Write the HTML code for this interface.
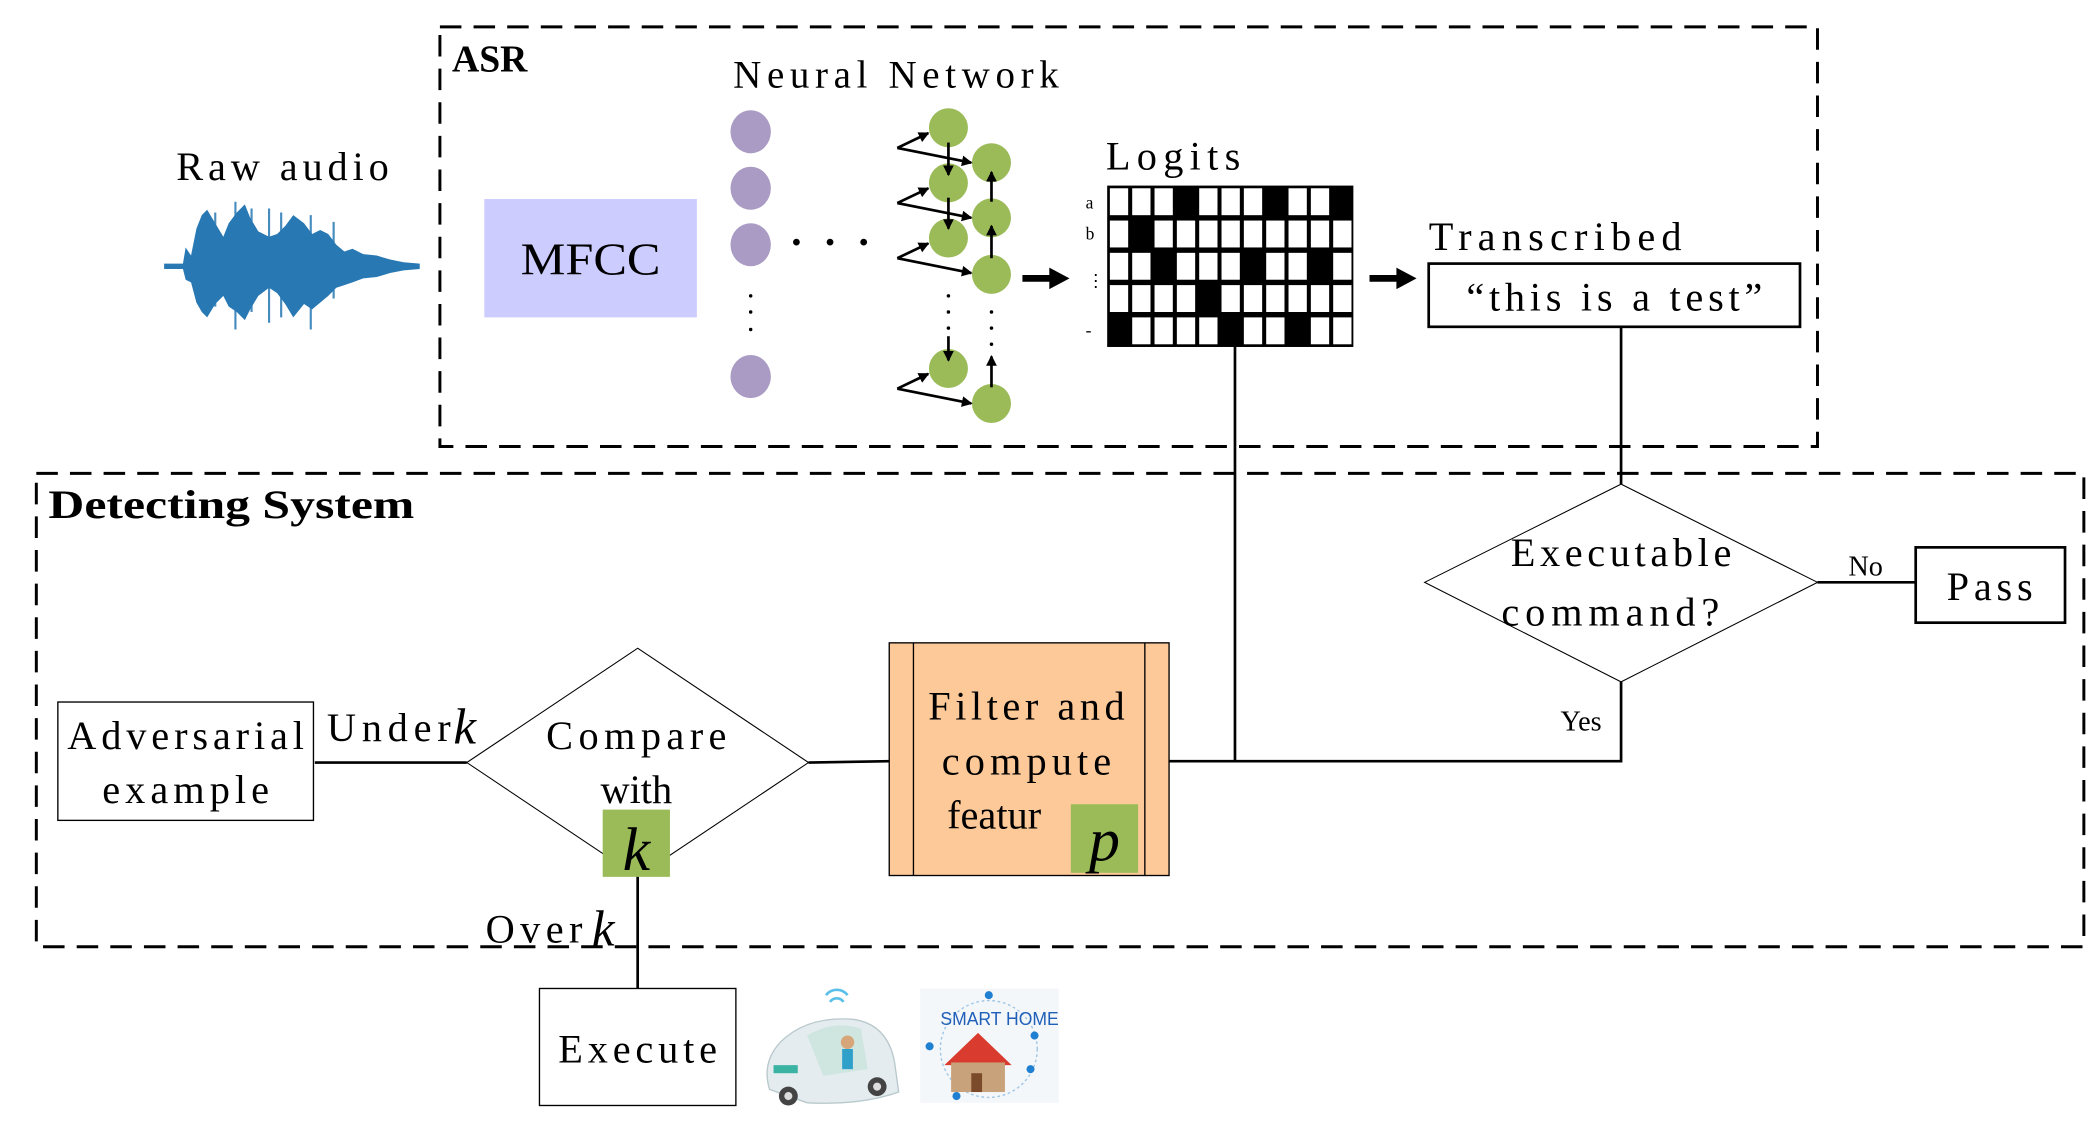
<!DOCTYPE html>
<html><head><meta charset="utf-8"><style>
html,body{margin:0;padding:0;background:#fff;}
svg{display:block;}
text{font-family:"Liberation Serif",serif;fill:#000;}
</style></head><body>
<svg width="2100" height="1127" viewBox="0 0 1561 838" preserveAspectRatio="none" xmlns="http://www.w3.org/2000/svg">
<defs>
<marker id="ah" markerWidth="8" markerHeight="8" refX="7" refY="4" orient="auto" markerUnits="userSpaceOnUse"><path d="M0,0 L8,4 L0,8 Z" fill="#000"/></marker>
</defs>
<rect width="1561" height="838" fill="#fff"/>
<!-- dashed boxes -->
<rect x="327" y="20" width="1024" height="312" fill="none" stroke="#000" stroke-width="2.2" stroke-dasharray="16,9"/>
<rect x="27" y="352" width="1522" height="352" fill="none" stroke="#000" stroke-width="2.2" stroke-dasharray="16,9"/>
<text x="336" y="53" font-size="28" font-weight="bold">ASR</text>
<text x="36" y="385" font-size="30" font-weight="bold" textLength="272" lengthAdjust="spacingAndGlyphs">Detecting System</text>
<!-- raw audio -->
<text x="131" y="134" font-size="30" textLength="158" lengthAdjust="spacing">Raw audio</text>
<g fill="#2878b4">
<polygon points="122,196 136,196 138,184 142,190 146,170 150,160 154,156 160,166 166,176 170,166 176,158 182,152 186,162 192,172 200,176 206,174 212,168 218,160 226,166 232,174 238,171 244,174 250,182 256,187 262,185 270,189 280,190 290,193 300,195 312,196 312,200 300,201 290,203 280,206 270,207 262,210 256,212 250,214 244,220 238,225 232,230 226,226 218,236 212,226 206,218 200,214 192,220 186,230 182,238 176,232 170,228 166,220 160,226 154,236 150,232 146,225 142,210 138,208 136,200 122,200"/>
<g stroke="#2878b4" stroke-width="1.6" opacity="0.85">
<line x1="175" y1="150" x2="175" y2="245"/><line x1="200" y1="155" x2="200" y2="240"/><line x1="209" y1="158" x2="209" y2="236"/><line x1="231" y1="160" x2="231" y2="245"/><line x1="153" y1="163" x2="153" y2="232"/><line x1="248" y1="165" x2="248" y2="222"/><line x1="187" y1="155" x2="187" y2="232"/><line x1="160" y1="158" x2="160" y2="228"/>
</g>
</g>
<!-- MFCC -->
<rect x="360" y="148" width="158" height="88" fill="#ccccfe"/>
<text x="439" y="204" font-size="34" text-anchor="middle" textLength="104" lengthAdjust="spacingAndGlyphs">MFCC</text>
<!-- neural network -->
<text x="545" y="65" font-size="29" textLength="242" lengthAdjust="spacing">Neural Network</text>
<g fill="#a99bc3">
<ellipse cx="558" cy="98" rx="15" ry="16"/><ellipse cx="558" cy="140" rx="15" ry="16"/><ellipse cx="558" cy="182" rx="15" ry="16"/><ellipse cx="558" cy="280" rx="15" ry="16"/>
</g>
<g fill="#000"><circle cx="592" cy="180" r="2.5"/><circle cx="617" cy="180" r="2.5"/><circle cx="642" cy="180" r="2.5"/>
<circle cx="558" cy="220" r="1.3"/><circle cx="558" cy="232" r="1.3"/><circle cx="558" cy="245" r="1.3"/>
<circle cx="705" cy="220" r="1.3"/><circle cx="705" cy="232" r="1.3"/><circle cx="705" cy="244" r="1.3"/>
<circle cx="737" cy="232" r="1.3"/><circle cx="737" cy="244" r="1.3"/><circle cx="737" cy="256" r="1.3"/></g>
<g fill="#9bbb59">
<circle cx="705" cy="95" r="14.5"/><circle cx="705" cy="136" r="14.5"/><circle cx="705" cy="177" r="14.5"/><circle cx="705" cy="274" r="14.5"/>
<circle cx="737" cy="121" r="14.5"/><circle cx="737" cy="162" r="14.5"/><circle cx="737" cy="204" r="14.5"/><circle cx="737" cy="300" r="14.5"/>
</g>
<g stroke="#000" stroke-width="2" marker-end="url(#ah)">
<line x1="667" y1="110" x2="690" y2="99"/><line x1="667" y1="110" x2="722" y2="121"/>
<line x1="667" y1="151" x2="690" y2="140"/><line x1="667" y1="151" x2="722" y2="162"/>
<line x1="667" y1="192" x2="690" y2="181"/><line x1="667" y1="192" x2="722" y2="203"/>
<line x1="667" y1="289" x2="690" y2="278"/><line x1="667" y1="289" x2="722" y2="300"/>
<line x1="705" y1="106" x2="705" y2="130"/><line x1="705" y1="147" x2="705" y2="170"/><line x1="705" y1="250" x2="705" y2="268"/>
<line x1="737" y1="150" x2="737" y2="128"/><line x1="737" y1="192" x2="737" y2="168"/><line x1="737" y1="288" x2="737" y2="265"/>
</g>
<!-- thick arrows -->
<line x1="760" y1="207" x2="782" y2="207" stroke="#000" stroke-width="5"/><polygon points="780,199 795,207 780,215" fill="#000"/>
<line x1="1018" y1="207" x2="1040" y2="207" stroke="#000" stroke-width="5"/><polygon points="1038,199 1053,207 1038,215" fill="#000"/>
<!-- logits -->
<text x="822" y="126" font-size="30" textLength="100" lengthAdjust="spacing">Logits</text>
<g font-size="13"><text x="807" y="155">a</text><text x="807" y="178">b</text><text x="808" y="213">⋮</text><text x="807" y="250">-</text></g>
<g id="grid">
<rect x="823" y="138" width="183" height="120" fill="#000"/>
</g>
<g fill="#fff" id="cells"></g>
<!-- transcribed -->
<text x="1062" y="186" font-size="30" textLength="188" lengthAdjust="spacing">Transcribed</text>
<rect x="1062" y="196" width="276" height="47" fill="#fff" stroke="#000" stroke-width="2"/>
<text x="1200" y="231" font-size="30" text-anchor="middle" textLength="220" lengthAdjust="spacing">“this is a test”</text>
<!-- connectors -->
<g stroke="#000" stroke-width="2" fill="none">
<line x1="1205" y1="243" x2="1205" y2="360"/>
<line x1="918" y1="258" x2="918" y2="566"/>
<polyline points="1205,507 1205,566 869,566"/>
<line x1="1351" y1="433" x2="1424" y2="433"/>
<line x1="601" y1="567" x2="661" y2="566"/>
<line x1="234" y1="567" x2="347" y2="567"/>
<line x1="474" y1="652" x2="474" y2="735"/>
</g>
<!-- executable diamond -->
<polygon points="1205,360 1351,433 1205,507 1059,433" fill="#fff" stroke="#000" stroke-width="0.8"/>
<text x="1205" y="421" font-size="30" text-anchor="middle" textLength="164" lengthAdjust="spacing">Executable</text>
<text x="1197" y="465" font-size="30" text-anchor="middle" textLength="162" lengthAdjust="spacing">command?</text>
<text x="1374" y="428" font-size="21">No</text>
<text x="1160" y="543" font-size="21">Yes</text>
<rect x="1424" y="407" width="111" height="56" fill="#fff" stroke="#000" stroke-width="2"/>
<text x="1479" y="446" font-size="30" text-anchor="middle" textLength="64" lengthAdjust="spacing">Pass</text>
<!-- filter box -->
<rect x="661" y="478" width="208" height="173" fill="#fdc999" stroke="#000" stroke-width="1"/>
<line x1="679" y1="478" x2="679" y2="651" stroke="#000" stroke-width="1"/>
<line x1="851" y1="478" x2="851" y2="651" stroke="#000" stroke-width="1"/>
<text x="763" y="535" font-size="30" text-anchor="middle" textLength="146" lengthAdjust="spacing">Filter and</text>
<text x="763" y="576" font-size="30" text-anchor="middle" textLength="126" lengthAdjust="spacing">compute</text>
<text x="704" y="616" font-size="30">featur</text>
<rect x="796" y="598" width="50" height="51" fill="#9bbb59"/>
<text x="821" y="640" font-size="46" font-style="italic" text-anchor="middle">p</text>
<!-- compare diamond -->
<polygon points="474,482 601,567 474,652 347,567" fill="#fff" stroke="#000" stroke-width="0.8"/>
<text x="473" y="557" font-size="30" text-anchor="middle" textLength="134" lengthAdjust="spacing">Compare</text>
<text x="473" y="597" font-size="30" text-anchor="middle">with</text>
<rect x="448" y="602" width="50" height="50" fill="#9bbb59"/>
<text x="473" y="647" font-size="46" font-style="italic" text-anchor="middle">k</text>
<!-- adversarial -->
<rect x="43" y="522" width="190" height="88" fill="#fff" stroke="#000" stroke-width="1"/>
<text x="138" y="557" font-size="30" text-anchor="middle" textLength="176" lengthAdjust="spacing">Adversarial</text>
<text x="138" y="597" font-size="30" text-anchor="middle" textLength="124" lengthAdjust="spacing">example</text>
<text x="243" y="551" font-size="30" textLength="92" lengthAdjust="spacing">Under</text>
<text x="337" y="553" font-size="38" font-style="italic">k</text>
<text x="361" y="701" font-size="30" textLength="72" lengthAdjust="spacing">Over</text>
<text x="440" y="703" font-size="38" font-style="italic">k</text>
<!-- execute -->
<rect x="401" y="735" width="146" height="87" fill="#fff" stroke="#000" stroke-width="1"/>
<text x="474" y="790" font-size="30" text-anchor="middle" textLength="118" lengthAdjust="spacing">Execute</text>
<!-- car icon -->
<g>
<path d="M614,740 a10,10 0 0 1 16,0" fill="none" stroke="#5bc0e8" stroke-width="2"/>
<path d="M617,745 a6,6 0 0 1 10,0" fill="none" stroke="#5bc0e8" stroke-width="2"/>
<path d="M572,810 Q566,790 580,775 Q600,755 635,758 Q660,762 665,790 L668,812 Q640,822 600,820 Z" fill="#e4ecef" stroke="#b8c8cc"/>
<path d="M600,770 Q620,758 640,765 L645,795 L612,800 Z" fill="#cfe6e0"/>
<circle cx="630" cy="775" r="5" fill="#d7a57a"/>
<rect x="626" y="780" width="8" height="15" fill="#2ea0c9"/>
<rect x="575" y="792" width="18" height="6" fill="#3bb3a3"/>
<circle cx="586" cy="815" r="7" fill="#444"/><circle cx="586" cy="815" r="3" fill="#ddd"/>
<circle cx="652" cy="808" r="7" fill="#444"/><circle cx="652" cy="808" r="3" fill="#ddd"/>
</g>
<!-- smart home icon -->
<g>
<rect x="684" y="735" width="103" height="85" fill="#f4f7fa"/>
<circle cx="735" cy="780" r="36" fill="none" stroke="#9cc4e4" stroke-width="1" stroke-dasharray="2,2"/>
<text x="699" y="762" font-size="14" fill="#1f5fb8" style="fill:#1f5fb8;font-family:'Liberation Sans',sans-serif" textLength="88" lengthAdjust="spacingAndGlyphs">SMART HOME</text>
<polygon points="702,792 727,768 752,792" fill="#d93b2f"/>
<rect x="707" y="790" width="40" height="22" fill="#c8a27a"/>
<rect x="722" y="798" width="8" height="14" fill="#7a4a2a"/>
<g fill="#1f7fd0"><circle cx="735" cy="740" r="3"/><circle cx="691" cy="778" r="3"/><circle cx="766" cy="795" r="3"/><circle cx="711" cy="815" r="3"/><circle cx="769" cy="770" r="3"/></g>
</g>
<!-- grid cells script-free: white cells -->
<g fill="#fff">
<!-- row geometry: 5 rows, height 24; 11 cols width 16.6 -->
</g>
<g id="cellsStatic"></g>
<g fill="#fff" stroke="none">
<!-- generated below -->
<!-- row a (black cols 3,7,10) -->
<rect x="825" y="140" width="13.6" height="20"/><rect x="841.6" y="140" width="13.6" height="20"/><rect x="858.2" y="140" width="13.6" height="20"/>
<rect x="891.4" y="140" width="13.6" height="20"/><rect x="908" y="140" width="13.6" height="20"/><rect x="924.6" y="140" width="13.6" height="20"/>
<rect x="957.8" y="140" width="13.6" height="20"/><rect x="974.4" y="140" width="13.6" height="20"/>
<!-- row b (black col 1) -->
<rect x="825" y="164" width="13.6" height="20"/>
<rect x="858.2" y="164" width="13.6" height="20"/><rect x="874.8" y="164" width="13.6" height="20"/><rect x="891.4" y="164" width="13.6" height="20"/><rect x="908" y="164" width="13.6" height="20"/><rect x="924.6" y="164" width="13.6" height="20"/><rect x="941.2" y="164" width="13.6" height="20"/><rect x="957.8" y="164" width="13.6" height="20"/><rect x="974.4" y="164" width="13.6" height="20"/><rect x="991" y="164" width="13.6" height="20"/>
<!-- row 3 (black cols 2,6,9) -->
<rect x="825" y="188" width="13.6" height="20"/><rect x="841.6" y="188" width="13.6" height="20"/>
<rect x="874.8" y="188" width="13.6" height="20"/><rect x="891.4" y="188" width="13.6" height="20"/><rect x="908" y="188" width="13.6" height="20"/>
<rect x="941.2" y="188" width="13.6" height="20"/><rect x="957.8" y="188" width="13.6" height="20"/>
<rect x="991" y="188" width="13.6" height="20"/>
<!-- row 4 (black col 4) -->
<rect x="825" y="212" width="13.6" height="20"/><rect x="841.6" y="212" width="13.6" height="20"/><rect x="858.2" y="212" width="13.6" height="20"/><rect x="874.8" y="212" width="13.6" height="20"/>
<rect x="908" y="212" width="13.6" height="20"/><rect x="924.6" y="212" width="13.6" height="20"/><rect x="941.2" y="212" width="13.6" height="20"/><rect x="957.8" y="212" width="13.6" height="20"/><rect x="974.4" y="212" width="13.6" height="20"/><rect x="991" y="212" width="13.6" height="20"/>
<!-- row 5 (black cols 0,5,8) -->
<rect x="841.6" y="236" width="13.6" height="20"/><rect x="858.2" y="236" width="13.6" height="20"/><rect x="874.8" y="236" width="13.6" height="20"/><rect x="891.4" y="236" width="13.6" height="20"/>
<rect x="924.6" y="236" width="13.6" height="20"/><rect x="941.2" y="236" width="13.6" height="20"/>
<rect x="974.4" y="236" width="13.6" height="20"/><rect x="991" y="236" width="13.6" height="20"/>
</g>
</svg>
</body></html>
